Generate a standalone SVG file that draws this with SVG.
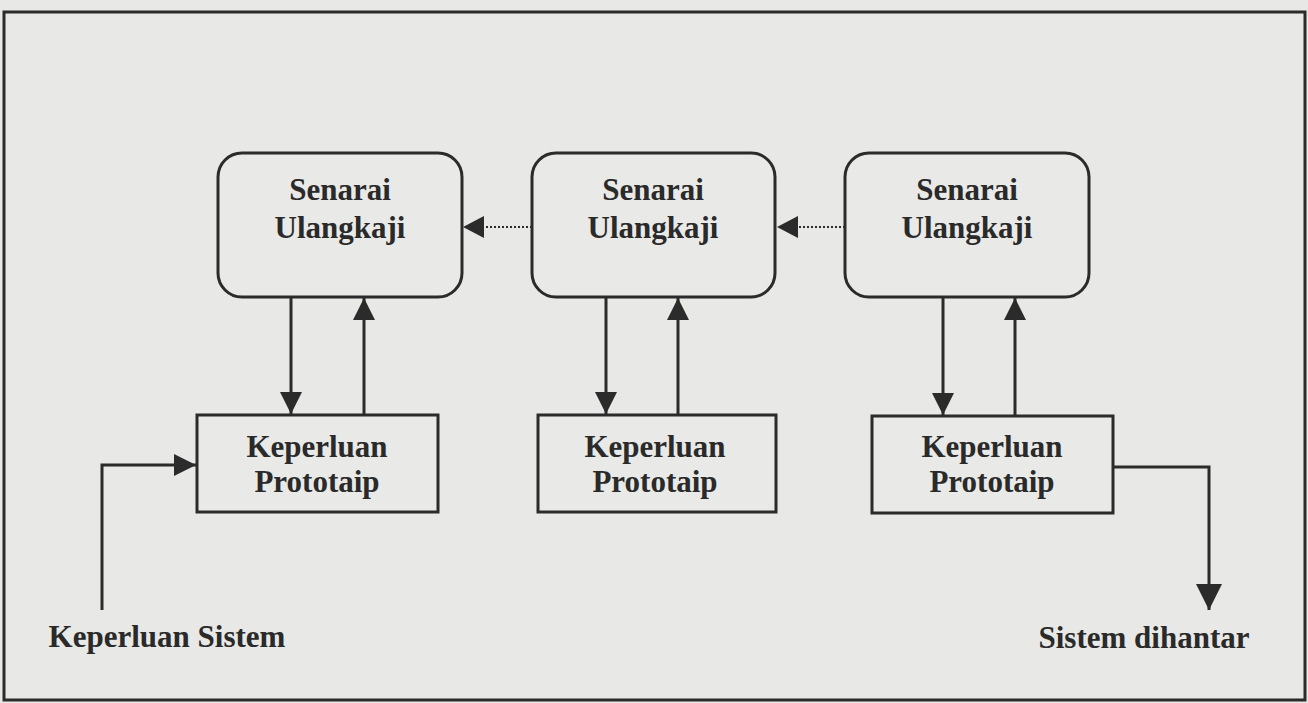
<svg xmlns="http://www.w3.org/2000/svg" width="1308" height="703" viewBox="0 0 1308 703">
  <defs>
    <style>
      .frame { fill: none; stroke: #2b2b2b; stroke-width: 3; }
      .review { fill: #e9e9e7; stroke: #2b2b2b; stroke-width: 3; }
      .proto { fill: #e9e9e7; stroke: #2b2b2b; stroke-width: 3; }
      .lbl { font-family: "Liberation Serif", "Times New Roman", serif; font-weight: bold; font-size: 31px; fill: #2a2a2a; text-anchor: middle; }
      .edge { fill: none; stroke: #2b2b2b; stroke-width: 3; }
      .dotted { fill: none; stroke: #2b2b2b; stroke-width: 2; stroke-dasharray: 2 2; }
    </style>
    <marker id="head" markerUnits="userSpaceOnUse" viewBox="0 0 22 22" markerWidth="22" markerHeight="22" refX="22" refY="11" orient="auto">
      <path d="M0,0 L22,11 L0,22 z" fill="#2b2b2b"/>
    </marker>
    <marker id="headBig" markerUnits="userSpaceOnUse" viewBox="0 0 26 26" markerWidth="26" markerHeight="26" refX="26" refY="13" orient="auto">
      <path d="M0,0 L26,13 L0,26 z" fill="#2b2b2b"/>
    </marker>
  </defs>

  <!-- page background and outer frame -->
  <rect x="0" y="0" width="1308" height="703" fill="#e8e8e6"/>
  <rect class="frame" x="4" y="12" width="1301" height="688"/>

  <!-- review list nodes -->
  <g id="senarai-1">
    <rect class="review" x="218" y="153" width="244" height="144" rx="24" ry="24"/>
    <text class="lbl" x="340" y="200">Senarai</text>
    <text class="lbl" x="340" y="238">Ulangkaji</text>
  </g>
  <g id="senarai-2">
    <rect class="review" x="532" y="153" width="243" height="144" rx="24" ry="24"/>
    <text class="lbl" x="653" y="200">Senarai</text>
    <text class="lbl" x="653" y="238">Ulangkaji</text>
  </g>
  <g id="senarai-3">
    <rect class="review" x="845" y="153" width="244" height="144" rx="24" ry="24"/>
    <text class="lbl" x="967" y="200">Senarai</text>
    <text class="lbl" x="967" y="238">Ulangkaji</text>
  </g>

  <!-- prototype requirement nodes -->
  <g id="keperluan-1">
    <rect class="proto" x="197" y="415" width="241" height="97"/>
    <text class="lbl" x="317" y="457">Keperluan</text>
    <text class="lbl" x="317" y="492">Prototaip</text>
  </g>
  <g id="keperluan-2">
    <rect class="proto" x="538" y="415" width="238" height="97"/>
    <text class="lbl" x="655" y="457">Keperluan</text>
    <text class="lbl" x="655" y="492">Prototaip</text>
  </g>
  <g id="keperluan-3">
    <rect class="proto" x="872" y="416" width="241" height="97"/>
    <text class="lbl" x="992" y="457">Keperluan</text>
    <text class="lbl" x="992" y="492">Prototaip</text>
  </g>

  <!-- input / output labels -->
  <g id="keperluan-sistem">
    <text class="lbl" x="167" y="647">Keperluan Sistem</text>
  </g>
  <g id="sistem-dihantar">
    <text class="lbl" x="1144" y="648">Sistem dihantar</text>
  </g>

  <!-- connectors -->
  <g id="connectors">
    <!-- dotted feedback between review lists -->
    <line class="dotted" x1="532" y1="227" x2="482" y2="227"/>
    <path d="M463,227 L484,216 L484,238 z" fill="#2b2b2b"/>
    <line class="dotted" x1="845" y1="227" x2="796" y2="227"/>
    <path d="M777,227 L798,216 L798,238 z" fill="#2b2b2b"/>

    <!-- review list to prototype and back -->
    <line class="edge" x1="291" y1="297" x2="291" y2="414" marker-end="url(#head)"/>
    <line class="edge" x1="364" y1="415" x2="364" y2="298" marker-end="url(#head)"/>
    <line class="edge" x1="606" y1="297" x2="606" y2="414" marker-end="url(#head)"/>
    <line class="edge" x1="678" y1="415" x2="678" y2="298" marker-end="url(#head)"/>
    <line class="edge" x1="943" y1="297" x2="943" y2="415" marker-end="url(#head)"/>
    <line class="edge" x1="1015" y1="416" x2="1015" y2="298" marker-end="url(#head)"/>

    <!-- system requirements in -->
    <polyline class="edge" points="102,610 102,465 196,465" marker-end="url(#head)"/>
    <!-- delivered system out -->
    <polyline class="edge" points="1113,467 1209,467 1209,610" marker-end="url(#headBig)"/>
  </g>
</svg>
